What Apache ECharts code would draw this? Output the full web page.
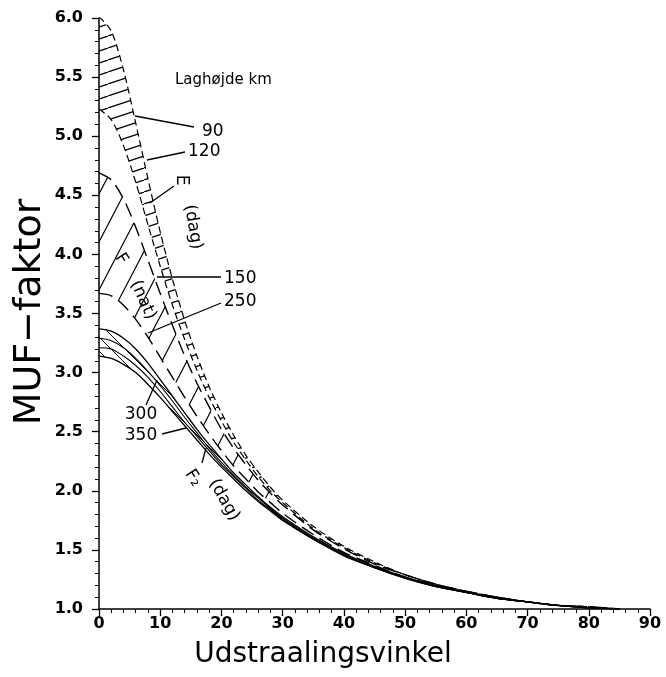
<!DOCTYPE html>
<html>
<head>
<meta charset="utf-8">
<script src="https://cdn.jsdelivr.net/npm/echarts@6/dist/echarts.min.js"></script>
<style>html,body{margin:0;padding:0;background:#fff;}#c{width:666px;height:677px;}</style>
</head>
<body>
<div id="c"></div>
<script>
// Elevation angle (Udstraalingsvinkel), degrees
const angles = [0,2,4,6,8,10,12,14,16,18,20,22,24,26,28,30,35,40,45,50,55,60,65,70,75,80,85];
// MUF factor read for each layer height (km)
const h90  = [6.01,5.89,5.56,5.11,4.64,4.19,3.79,3.44,3.14,2.88,2.66,2.47,2.30,2.16,2.03,1.92,1.70,1.53,1.40,1.29,1.21,1.15,1.10,1.06,1.03,1.02,1.00];
const h120 = [5.23,5.14,4.92,4.61,4.25,3.90,3.57,3.28,3.02,2.79,2.59,2.41,2.26,2.12,2.00,1.90,1.68,1.52,1.39,1.29,1.21,1.15,1.10,1.06,1.03,1.02,1.00];
const h150 = [4.69,4.63,4.47,4.23,3.95,3.67,3.40,3.14,2.91,2.71,2.52,2.36,2.22,2.09,1.98,1.88,1.67,1.51,1.38,1.29,1.21,1.15,1.10,1.06,1.03,1.02,1.00];
const h250 = [3.67,3.65,3.57,3.45,3.30,3.13,2.96,2.79,2.63,2.48,2.34,2.21,2.10,1.99,1.90,1.81,1.63,1.48,1.37,1.27,1.20,1.14,1.10,1.06,1.03,1.01,1.00];
const h300 = [3.37,3.35,3.29,3.20,3.08,2.94,2.80,2.66,2.52,2.39,2.27,2.15,2.05,1.95,1.86,1.78,1.61,1.47,1.36,1.27,1.20,1.14,1.09,1.06,1.03,1.01,1.00];
const h317 = [3.29,3.27,3.21,3.12,3.01,2.89,2.76,2.62,2.49,2.36,2.24,2.13,2.03,1.94,1.85,1.77,1.60,1.46,1.35,1.27,1.19,1.14,1.09,1.06,1.03,1.01,1.00];
const h333 = [3.21,3.20,3.14,3.06,2.96,2.84,2.71,2.58,2.46,2.34,2.22,2.12,2.02,1.92,1.84,1.76,1.59,1.46,1.35,1.26,1.19,1.14,1.09,1.06,1.03,1.01,1.00];
const h350 = [3.14,3.12,3.07,3.00,2.90,2.79,2.67,2.55,2.43,2.31,2.20,2.10,2.00,1.91,1.83,1.75,1.59,1.45,1.35,1.26,1.19,1.14,1.09,1.06,1.03,1.01,1.00];
// tick labels
const xTicks = [0,10,20,30,40,50,60,70,80,90];
const yTicks = ['1.0','1.5','2.0','2.5','3.0','3.5','4.0','4.5','5.0','5.5','6.0'];

const FONT = '"DejaVu Sans", "Liberation Sans", sans-serif';

function pairs(vals){ return angles.map((a,i)=>[a, vals[i]]); }

function hatch(w, h, lw, asc){
  const c = document.createElement('canvas');
  c.width = w; c.height = h;
  const g = c.getContext('2d');
  g.strokeStyle = '#000'; g.lineWidth = lw;
  g.beginPath();
  for (let n = -1; n <= 2; n++){
    if (asc){ g.moveTo(n*w, 0); g.lineTo((n-1)*w, h); }
    else { g.moveTo((n-1)*w, 0); g.lineTo(n*w, h); }
  }
  g.stroke();
  return c;
}

function band(upper, lower, lastIdx, pattern){
  return {
    type: 'custom',
    data: [[0]],
    silent: true,
    z: 1,
    renderItem: function(params, api){
      const pts = [];
      for (let i = 0; i <= lastIdx; i++) pts.push(api.coord([angles[i], upper[i]]));
      for (let i = lastIdx; i >= 0; i--) pts.push(api.coord([angles[i], lower[i]]));
      return { type: 'polygon', shape: { points: pts }, style: { fill: { image: pattern, repeat: 'repeat' }, stroke: null } };
    }
  };
}

function curve(vals, type, width){
  return {
    type: 'line', data: pairs(vals), smooth: 0.3, showSymbol: false, silent: true, z: 3,
    lineStyle: { color: '#000', width: width, type: type }
  };
}

const chart = echarts.init(document.getElementById('c'), null, { renderer: 'canvas' });

function txt(x, y, s, size, rot, align, weight){
  return { type: 'text', x: x, y: y, rotation: rot || 0, silent: true,
    style: { text: s, font: (weight || 'normal') + ' ' + size + 'px ' + FONT, fill: '#000', textAlign: align || 'center', textVerticalAlign: 'middle' } };
}
function seg(x1, y1, x2, y2){
  return { type: 'line', silent: true, shape: { x1: x1, y1: y1, x2: x2, y2: y2 }, style: { stroke: '#000', lineWidth: 1.3 } };
}

const option = {
  animation: false,
  backgroundColor: '#ffffff',
  grid: { left: 99, right: 16, top: 18, bottom: 68 },
  xAxis: {
    type: 'value', min: 0, max: 90, interval: 10,
    axisLine: { lineStyle: { color: '#000', width: 1.5 } },
    axisTick: { length: 7, lineStyle: { color: '#000', width: 1.3 } },
    minorTick: { show: true, splitNumber: 5, length: 4, lineStyle: { color: '#000', width: 1 } },
    splitLine: { show: false },
    axisLabel: { color: '#000', fontSize: 16, fontWeight: 'bold', fontFamily: FONT, margin: 7,
      formatter: v => xTicks.indexOf(v) >= 0 ? String(v) : '' }
  },
  yAxis: {
    type: 'value', min: 1, max: 6, interval: 0.5,
    axisLine: { lineStyle: { color: '#000', width: 1.5 } },
    axisTick: { length: 7, lineStyle: { color: '#000', width: 1.3 } },
    minorTick: { show: true, splitNumber: 5, length: 4, lineStyle: { color: '#000', width: 1 } },
    splitLine: { show: false },
    axisLabel: { color: '#000', fontSize: 16, fontWeight: 'bold', fontFamily: FONT, margin: 16,
      formatter: v => yTicks[Math.round((v - 1) * 2)] }
  },
  series: [
    band(h90, h120, 15, hatch(36, 12, 1.2, true)),
    band(h150, h250, 14, hatch(25, 48, 1.2, true)),
    band(h300, h350, 15, hatch(14, 14, 1, false)),
    curve(h90, [7, 4], 1.2),
    curve(h120, [7, 4], 1.2),
    curve(h150, [14, 7], 1.4),
    curve(h250, [14, 7], 1.4),
    curve(h300, 'solid', 1.3),
    curve(h317, 'solid', 1.1),
    curve(h333, 'solid', 1.1),
    curve(h350, 'solid', 1.3)
  ],
  graphic: [
    txt(30, 312, 'MUF\u2212faktor', 38, Math.PI / 2),
    txt(323, 655, 'Udstraalingsvinkel', 28, 0),
    txt(175, 80, 'Laghøjde km', 15, 0, 'left'),
    seg(135, 116, 194, 127), txt(202, 132, '90', 17, 0, 'left'),
    seg(147, 160, 185, 152), txt(188, 152, '120', 17, 0, 'left'),
    seg(150, 203, 174, 186), txt(181, 180, 'E', 17, -Math.PI / 2),
    txt(193, 227, '(dag)', 17, -1.4),
    seg(157, 277, 221, 277), txt(224, 279, '150', 17, 0, 'left'),
    seg(148, 333, 221, 303), txt(224, 302, '250', 17, 0, 'left'),
    txt(121, 259, 'F', 17, -1.0),
    txt(143, 300, '(nat)', 17, -1.15),
    txt(141, 415, '300', 17, 0), seg(146, 405, 157, 380),
    txt(141, 436, '350', 17, 0), seg(162, 434, 186, 428),
    txt(193, 478, 'F\u2082', 17, -1.0), seg(202, 463, 206, 448),
    txt(224, 500, '(dag)', 17, -1.05)
  ]
};
chart.setOption(option);
</script>
</body>
</html>
